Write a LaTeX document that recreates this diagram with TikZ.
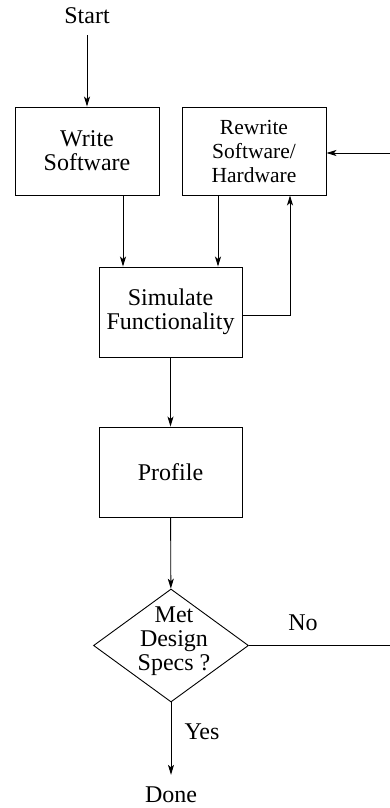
\documentclass[tikz,border=0pt]{standalone}
\usepackage{fontspec}
\setmainfont{Liberation Serif}
\usetikzlibrary{arrows.meta,shapes.geometric}

\tikzset{
  box/.style={draw, line width=0.9pt, inner sep=0pt, align=center,
              minimum width=144pt, minimum height=88pt},
  txt/.style={inner sep=0pt, align=center},
  arr/.style={line width=0.9pt, -{Stealth[length=10pt,width=6pt,inset=2.5pt]}},
  big/.style={font=\fontsize{24}{24}\selectfont},
  small/.style={font=\fontsize{21.5}{24}\selectfont},
}

\begin{document}
\begin{tikzpicture}[x=1pt,y=-1pt]
  \useasboundingbox (0,0) rectangle (389,808);

  % terminals
  \node[txt,big] (start) at (87,16) {Start};
  \node[txt,big] (done)  at (171,795) {Done};

  % process boxes
  \node[box,big]   (write)   at (87,151)    {Write\\Software};
  \node[box,small] (rewrite) at (254,151)   {Rewrite\\Software/\\Hardware};
  \node[box,big,minimum width=143pt,minimum height=90pt] (sim)     at (170.5,312) {Simulate\\Functionality};
  \node[box,big,minimum width=143pt,minimum height=90pt] (profile) at (170.5,472) {Profile};

  % decision
  \node[draw, line width=0.9pt, diamond, inner sep=0pt,
        minimum width=155pt, minimum height=113pt] (dia) at (171,645.5) {};
  \node[txt,big] (diatext) at (174,641) {Met\\Design\\Specs ?};

  % labels
  \node[txt,big] (no)  at (303,623) {No};
  \node[txt,big] (yes) at (202,732) {Yes};

  % connectors
  \draw[arr, shorten <=11pt] (start) -- (write);
  \draw[arr] ([xshift=36pt]write.south) -- ([xshift=36pt]write.south |- sim.north);
  \draw[arr] ([xshift=-36pt]rewrite.south) -- ([xshift=-36pt]rewrite.south |- sim.north);
  \draw[arr] ([yshift=-3pt]sim.east) -| ([xshift=36pt]rewrite.south);
  \draw[arr] (sim) -- (profile);
  \draw[arr] (profile) -- (dia);
  \draw[arr] (dia.east) -- ++(160,0) |- ([yshift=-2pt]rewrite.east);
  \draw[arr, shorten >=12pt] (dia.south) -- (done);
\end{tikzpicture}
\end{document}
